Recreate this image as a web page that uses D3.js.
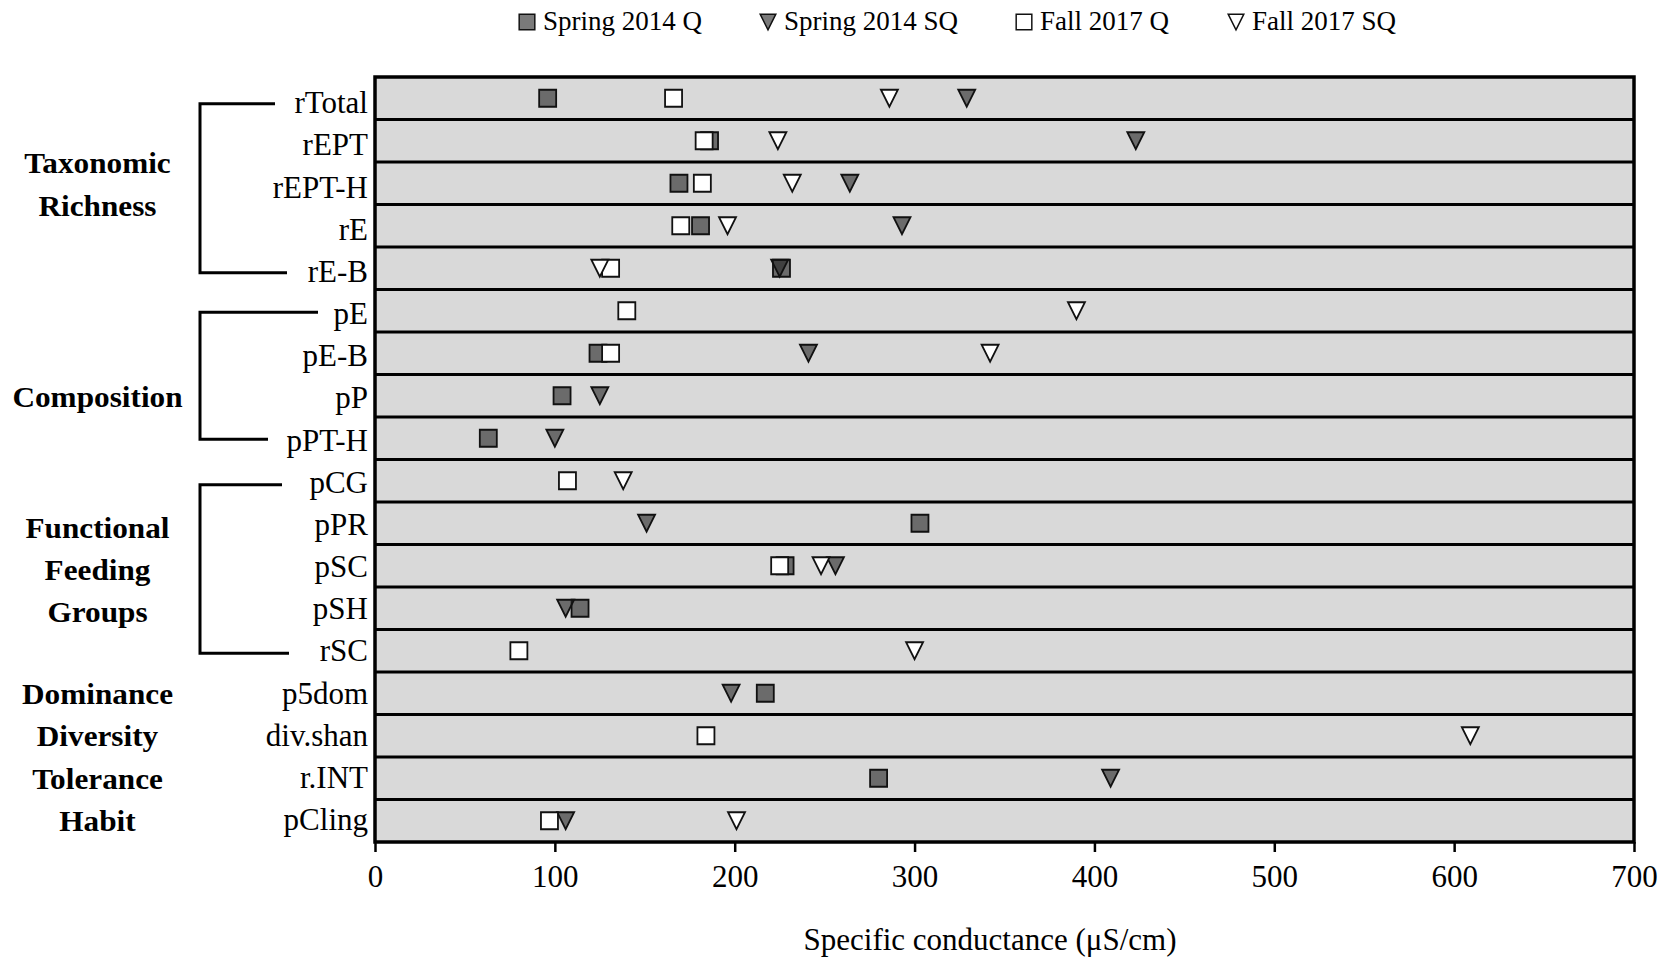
<!DOCTYPE html>
<html>
<head>
<meta charset="utf-8">
<script src="https://cdn.jsdelivr.net/npm/d3@7"></script>
<style>
  html, body { margin: 0; padding: 0; background: #fff; }
  svg { display: block; }
  text { font-family: "Liberation Serif", "Times New Roman", serif; fill: #000; }
</style>
</head>
<body>
<svg id="chart" width="1669" height="957"></svg>
<script>
// ---- data ----
const categories = ["rTotal","rEPT","rEPT-H","rE","rE-B","pE","pE-B","pP","pPT-H","pCG","pPR","pSC","pSH","rSC","p5dom","div.shan","r.INT","pCling"];
const spring2014Q  = [96, 186, 169, 181, 226, null, 124, 104, 63, null, 303, 228, 114, null, 217, null, 280, null];
const spring2014SQ = [329, 423, 264, 293, 225, null, 241, 125, 100, null, 151, 256, 106, null, 198, null, 409, 106];
const fall2017Q    = [166, 183, 182, 170, 131, 140, 131, null, null, 107, null, 225, null, 80, null, 184, null, 97];
const fall2017SQ   = [286, 224, 232, 196, 125, 390, 342, null, null, 138, null, 248, null, 300, null, 609, null, 201];
const seriesNames  = ["Spring 2014 Q", "Spring 2014 SQ", "Fall 2017 Q", "Fall 2017 SQ"];
const xTicks = [0, 100, 200, 300, 400, 500, 600, 700];
const xTitle = "Specific conductance (\u03bcS/cm)";
const groups = [
  { lines: ["Taxonomic", "Richness"], first: "rTotal", last: "rE-B", bracket: true },
  { lines: ["Composition"], first: "pE", last: "pPT-H", bracket: true },
  { lines: ["Functional", "Feeding", "Groups"], first: "pCG", last: "rSC", bracket: true },
  { lines: ["Dominance"], first: "p5dom", last: "p5dom", bracket: false },
  { lines: ["Diversity"], first: "div.shan", last: "div.shan", bracket: false },
  { lines: ["Tolerance"], first: "r.INT", last: "r.INT", bracket: false },
  { lines: ["Habit"], first: "pCling", last: "pCling", bracket: false }
];

// ---- layout ----
const svg = d3.select("#chart");
const L = 375, R = 1634, T = 77, B = 842;
const x = d3.scaleLinear().domain([0, 700]).range([L, R]);
const y = d3.scaleBand().domain(categories).range([T, B]).padding(0);
const yc = c => y(c) + y.bandwidth() / 2;

// background
svg.append("rect").attr("x", L).attr("y", T).attr("width", R - L).attr("height", B - T)
  .attr("fill", "#d9d9d9");
// row separators
svg.append("g").selectAll("line").data(categories.slice(1)).join("line")
  .attr("x1", L).attr("x2", R).attr("y1", d => y(d)).attr("y2", d => y(d))
  .attr("stroke", "#000").attr("stroke-width", 3);

// x axis
const xAxis = d3.axisBottom(x).tickValues(xTicks).tickSize(10).tickFormat(d3.format("d"));
const gx = svg.append("g").attr("transform", `translate(0,${B})`).call(xAxis);
gx.select(".domain").remove();
gx.selectAll(".tick line").attr("stroke", "#000").attr("stroke-width", 2.5);
gx.selectAll(".tick text").attr("font-size", 31).attr("font-family", "Liberation Serif, Times New Roman, serif")
  .attr("dy", "0.71em").attr("y", 23).attr("fill", "#000");

// outer frame
svg.append("rect").attr("x", L).attr("y", T).attr("width", R - L).attr("height", B - T)
  .attr("fill", "none").attr("stroke", "#000").attr("stroke-width", 3.5);

// axis title
svg.append("text").attr("x", 990).attr("y", 950).attr("text-anchor", "middle")
  .attr("font-size", 31).text(xTitle);

// row labels
svg.append("g").selectAll("text").data(categories).join("text")
  .attr("x", 368).attr("y", (d, i) => yc(d) + 15 - i * 0.33).attr("text-anchor", "end")
  .attr("font-size", 31).text(d => d);

// brackets and group labels
const bracketX = 200;
const bracketEnds = { "rTotal": 275, "rE-B": 287, "pE": 318, "pPT-H": 268, "pCG": 282, "rSC": 289 };
const bracketOffsets = { "rTotal": 5.5, "rE-B": 4.5, "pE": 1.5, "pPT-H": 1, "pCG": 4, "rSC": 2.5 };
const labelBaselines = {
  "Taxonomic": 173, "Richness": 216, "Composition": 407,
  "Functional": 538, "Feeding": 580, "Groups": 622,
  "Dominance": 704, "Diversity": 746, "Tolerance": 789, "Habit": 831
};
groups.forEach(g => {
  if (g.bracket) {
    const y1 = yc(g.first) + bracketOffsets[g.first], y2 = yc(g.last) + bracketOffsets[g.last];
    svg.append("path")
      .attr("d", `M${bracketEnds[g.first]},${y1}H${bracketX}V${y2}H${bracketEnds[g.last]}`)
      .attr("fill", "none").attr("stroke", "#000").attr("stroke-width", 3);
  }
  g.lines.forEach(t => {
    svg.append("text")
      .attr("transform", `translate(97.5,${labelBaselines[t]}) scale(1.06,1)`)
      .attr("text-anchor", "middle").attr("font-size", 29.5).attr("font-weight", "bold")
      .text(t);
  });
});

// markers
const h = 8.5;
const squarePath = `M${-h},${-h}H${h}V${h}H${-h}Z`;
const triPath = `M${-h},${-h}H${h}L0,${h}Z`;
const styles = [
  { values: spring2014Q,  path: squarePath, fill: "#252525", fo: 0.61 },
  { values: spring2014SQ, path: triPath,    fill: "#252525", fo: 0.61 },
  { values: fall2017Q,    path: squarePath, fill: "#ffffff", fo: 1 },
  { values: fall2017SQ,   path: triPath,    fill: "#ffffff", fo: 1 }
];
styles.forEach((s, si) => {
  const pts = categories.map((c, i) => ({ c, v: s.values[i] })).filter(d => d.v != null);
  svg.append("g").selectAll("path").data(pts).join("path")
    .attr("d", s.path)
    .attr("transform", d => `translate(${x(d.v)},${yc(d.c)})`)
    .attr("fill", s.fill).attr("fill-opacity", s.fo)
    .attr("stroke", "#111").attr("stroke-width", 1.8);
});

// legend
const legendTextX = [543, 784, 1040, 1252];
const legend = svg.append("g");
seriesNames.forEach((name, i) => {
  const s = styles[i];
  legend.append("path").attr("d", s.path)
    .attr("transform", `translate(${legendTextX[i] - 16},22) scale(0.92)`)
    .attr("fill", s.fill).attr("fill-opacity", s.fo)
    .attr("stroke", "#111").attr("stroke-width", 1.6);
  legend.append("text").attr("x", legendTextX[i]).attr("y", 30)
    .attr("font-size", 27).text(name);
});
</script>
</body>
</html>
